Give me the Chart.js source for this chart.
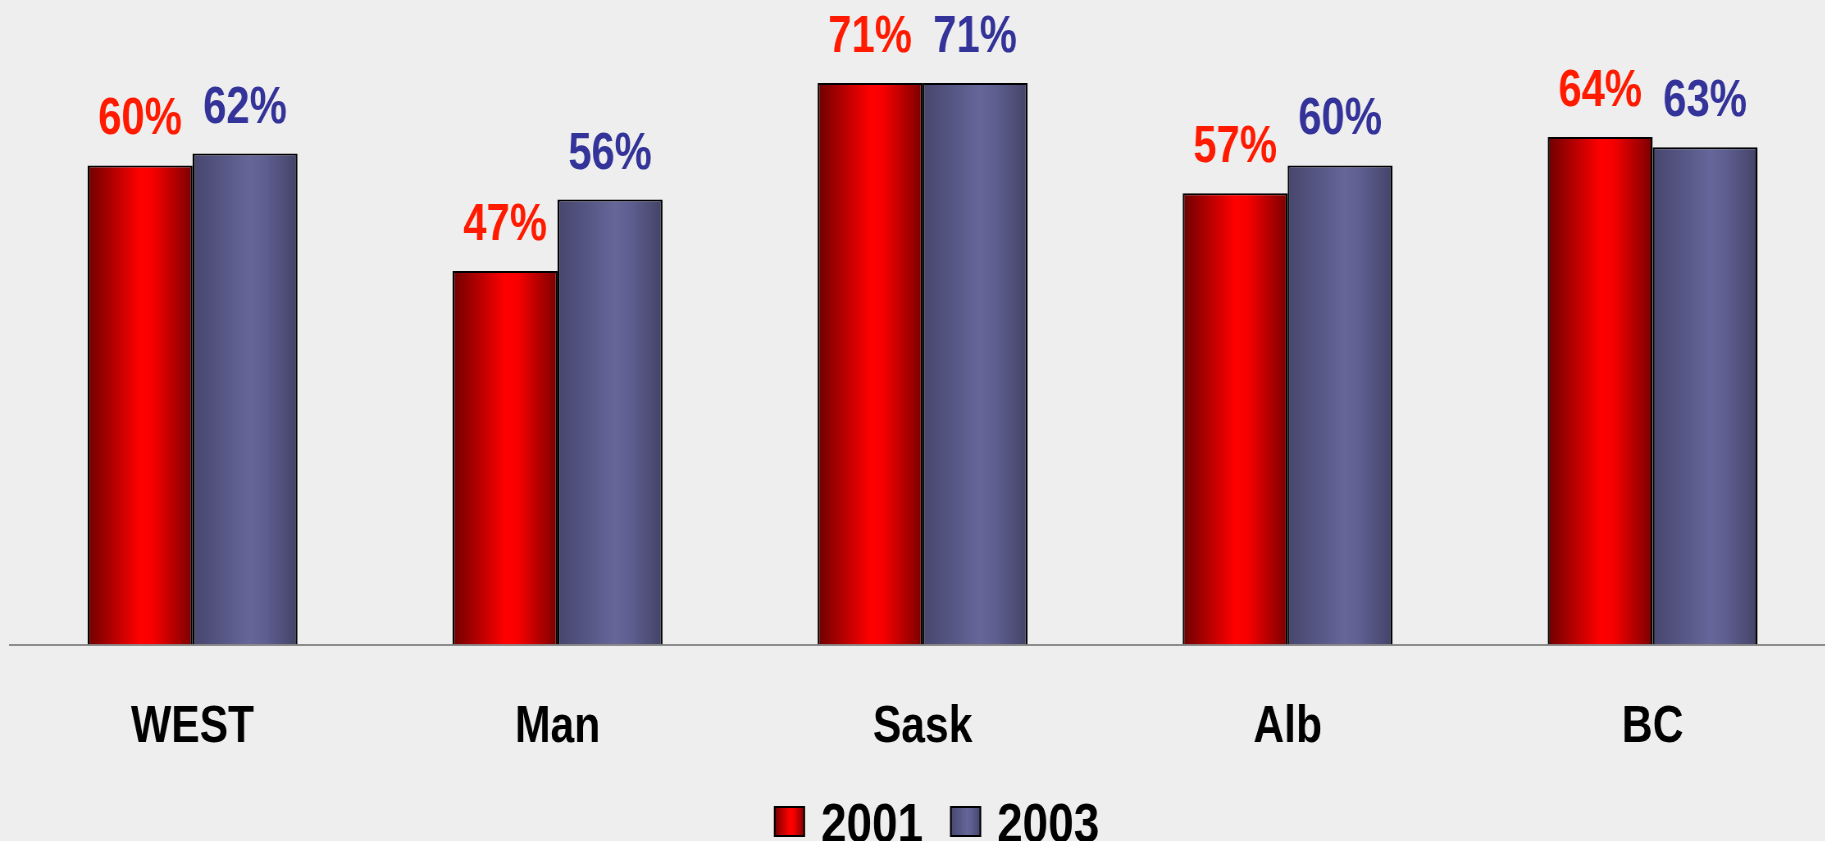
<!DOCTYPE html>
<html><head><meta charset="utf-8">
<script src="https://cdn.jsdelivr.net/npm/chart.js@4"></script>
<style>
html,body{margin:0;padding:0;background:#eeeeee;overflow:hidden;width:1825px;height:841px}
#wrap{position:absolute;left:0;top:0;width:2238px;height:841px;transform:scaleX(0.82);transform-origin:0 0}
</style></head><body><div id="wrap"><canvas id="c" width="2238" height="841"></canvas></div>
<script>
const categories = ['WEST', 'Man', 'Sask', 'Alb', 'BC'];
const seriesNames = ['2001', '2003'];
const values2001 = [60.4, 47.1, 70.8, 56.9, 64.0];
const values2003 = [61.9, 56.1, 70.8, 60.4, 62.7];

const S = 0.82; // horizontal condensing applied to the whole drawing
const FONT = '"Liberation Sans", Arial, sans-serif';
const labelColors = ['#FF1A00', '#333399'];
const gradStops = [
  [[0, '#6E0000'], [0.5, '#FF0000'], [0.62, '#F80000'], [1, '#7A0000']],
  [[0, '#46466E'], [0.55, '#66669A'], [0.7, '#5E5E90'], [1, '#434367']]
];

function makeGrad(ctx, x0, x1, stops) {
  const g = ctx.createLinearGradient(x0, 0, x1, 0);
  stops.forEach(s => g.addColorStop(s[0], s[1]));
  return g;
}

const gradientPlugin = {
  id: 'gradBars',
  beforeDatasetsDraw(chart) {
    const ctx = chart.ctx;
    chart.data.datasets.forEach((ds, di) => {
      const meta = chart.getDatasetMeta(di);
      meta.data.forEach(el => {
        const w = el.width;
        const g = makeGrad(ctx, el.x - w / 2, el.x + w / 2, gradStops[di]);
        el.options = Object.assign({}, el.options, { backgroundColor: g });
      });
    });
  },
  afterDatasetsDraw(chart) {
    const ctx = chart.ctx;
    ctx.save();
    ctx.font = 'bold 51px ' + FONT;
    ctx.textAlign = 'center';
    ctx.textBaseline = 'alphabetic';
    chart.data.datasets.forEach((ds, di) => {
      const meta = chart.getDatasetMeta(di);
      ctx.fillStyle = labelColors[di];
      meta.data.forEach((el, i) => {
        ctx.fillText(Math.round(ds.data[i]) + '%', el.x, el.y - 31);
      });
    });
    ctx.restore();
  },
  afterDraw(chart) {
    const ctx = chart.ctx;
    ctx.save();
    ctx.font = 'bold 56px ' + FONT;
    ctx.textBaseline = 'alphabetic';
    const sw = 31 / S, swh = 31, gap = 16 / S, itemGap = 27 / S;
    const widths = seriesNames.map(n => ctx.measureText(n).width);
    const total = sw * 2 + gap * 2 + widths[0] + widths[1] + itemGap;
    const ca = chart.chartArea;
    let x = (ca.left + ca.right) / 2 + 14 / S - total / 2;
    const top = 806, base = 842;
    seriesNames.forEach((n, di) => {
      ctx.fillStyle = makeGrad(ctx, x, x + sw, gradStops[di]);
      ctx.fillRect(x, top, sw, swh);
      ctx.lineWidth = 2;
      ctx.strokeStyle = '#000';
      ctx.strokeRect(x + 1, top + 1, sw - 2, swh - 2);
      ctx.fillStyle = '#000';
      ctx.fillText(n, x + sw + gap, base);
      x += sw + gap + widths[di] + itemGap;
    });
    ctx.restore();
  }
};

new Chart(document.getElementById('c'), {
  type: 'bar',
  data: {
    labels: categories,
    datasets: [
      { label: seriesNames[0], data: values2001, backgroundColor: '#FF0000' },
      { label: seriesNames[1], data: values2003, backgroundColor: '#66669A' }
    ]
  },
  options: {
    responsive: false,
    animation: false,
    devicePixelRatio: 1,
    layout: { padding: { left: 12.2, right: 0, top: 10, bottom: 31 } },
    datasets: {
      bar: {
        categoryPercentage: 0.575,
        barPercentage: 1.0,
        borderColor: '#000000',
        borderWidth: { top: 2, left: 2.4, right: 2.4, bottom: 0 },
        borderSkipped: 'start'
      }
    },
    plugins: { legend: { display: false }, tooltip: { enabled: false } },
    scales: {
      x: {
        grid: { display: false, drawTicks: false },
        border: { display: true, color: '#8C8C8C', width: 2 },
        ticks: { color: '#000000', font: { family: FONT, size: 52, weight: 'bold' }, padding: 51.5 }
      },
      y: { display: false, min: 0, max: 80 }
    }
  },
  plugins: [gradientPlugin]
});
</script></body></html>
